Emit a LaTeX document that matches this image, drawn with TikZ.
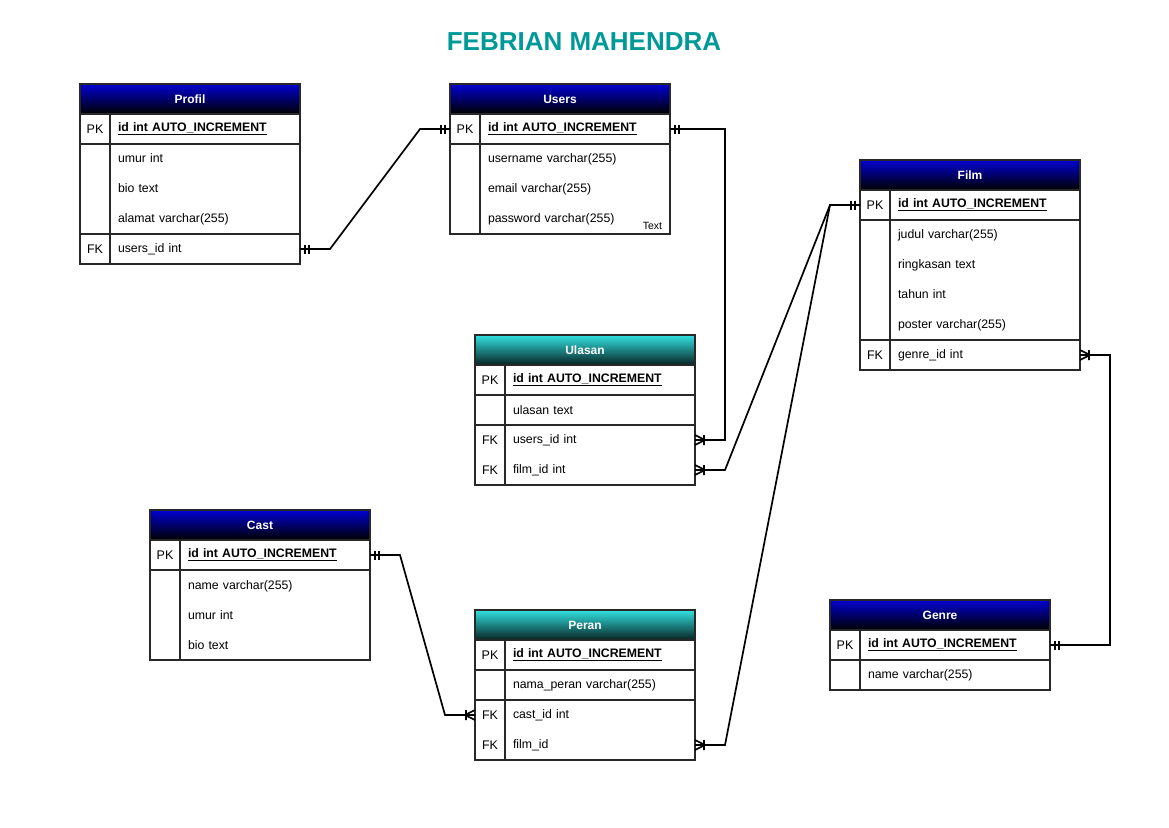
\documentclass[tikz,border=0pt]{standalone}
\usepackage{fontspec}
\setmainfont{Liberation Sans}
\usetikzlibrary{positioning}
\definecolor{hdrblue}{RGB}{0,0,210}
\definecolor{hdrteal}{RGB}{50,225,225}
\definecolor{titleteal}{RGB}{0,153,153}
\definecolor{erline}{RGB}{40,40,40}
% crow's foot with one bar (one or many)
\pgfdeclarearrow{
  name = ERmany,
  setup code = {
    \pgfarrowssettipend{0pt}
    \pgfarrowssetlineend{0pt}
    \pgfarrowssetvisualbackend{-11pt}
    \pgfarrowssetbackend{-11pt}
    \pgfarrowshullpoint{0pt}{6pt}
    \pgfarrowshullpoint{0pt}{-6pt}
    \pgfarrowshullpoint{-11pt}{6pt}
    \pgfarrowshullpoint{-11pt}{-6pt}
  },
  drawing code = {
    \pgfsetdash{}{0pt}
    \pgfpathmoveto{\pgfqpoint{0pt}{5pt}}
    \pgfpathlineto{\pgfqpoint{-10pt}{0pt}}
    \pgfpathlineto{\pgfqpoint{0pt}{-5pt}}
    \pgfpathmoveto{\pgfqpoint{-9pt}{5pt}}
    \pgfpathlineto{\pgfqpoint{-9pt}{-5pt}}
    \pgfusepathqstroke
  }
}
% two bars (one and only one)
\pgfdeclarearrow{
  name = ERone,
  setup code = {
    \pgfarrowssettipend{0pt}
    \pgfarrowssetlineend{0pt}
    \pgfarrowssetvisualbackend{-11pt}
    \pgfarrowssetbackend{-11pt}
    \pgfarrowshullpoint{0pt}{6pt}
    \pgfarrowshullpoint{0pt}{-6pt}
    \pgfarrowshullpoint{-11pt}{6pt}
    \pgfarrowshullpoint{-11pt}{-6pt}
  },
  drawing code = {
    \pgfsetdash{}{0pt}
    \pgfpathmoveto{\pgfqpoint{-5pt}{4.5pt}}
    \pgfpathlineto{\pgfqpoint{-5pt}{-4.5pt}}
    \pgfpathmoveto{\pgfqpoint{-9pt}{4.5pt}}
    \pgfpathlineto{\pgfqpoint{-9pt}{-4.5pt}}
    \pgfusepathqstroke
  }
}
\begin{document}
\begin{tikzpicture}[x=1pt, y=-1pt,
  every node/.style={inner sep=0pt, outer sep=0pt},
  tblhead/.style={draw=erline, line width=1.5pt, minimum width=220pt, minimum height=30pt,
    text=white, font=\bfseries\fontsize{12}{14}\selectfont, anchor=north west},
  bluehead/.style={tblhead, top color=hdrblue, bottom color=black},
  tealhead/.style={tblhead, top color=hdrteal, bottom color=black!85!hdrteal},
  keycell/.style={draw=erline, line width=1.5pt, minimum width=30pt, align=center,
    font=\fontsize{12.5}{30}\selectfont},
  fieldcell/.style={draw=erline, line width=1.5pt, text width=174pt, inner xsep=8pt,
    align=left, font=\fontsize{12.3}{30}\selectfont},
  pkfield/.style={fieldcell, font=\bfseries\fontsize{12.3}{30}\selectfont},
  rel/.style={line width=1.7pt, black}
]
\useasboundingbox[fill=white] (0,0) rectangle (1169,827);
\node[text=titleteal, font=\bfseries\fontsize{26}{30}\selectfont] (title) at (584,42) {FEBRIAN MAHENDRA};

% Profil
\node[bluehead] (profil) at (80,84) {Profil};
\node[keycell, minimum height=30pt, below right=0pt and 0pt of profil.south west] (profil-k1) {PK};
\node[pkfield, minimum height=30pt, right=0pt of profil-k1] (profil-f1) {\underline{id int AUTO\_INCREMENT}};
\node[keycell, minimum height=90pt, below=0pt of profil-k1] (profil-k2) {};
\node[fieldcell, minimum height=90pt, right=0pt of profil-k2] (profil-f2) {umur int\\bio text\\alamat varchar(255)};
\node[keycell, minimum height=30pt, below=0pt of profil-k2] (profil-k3) {FK};
\node[fieldcell, minimum height=30pt, right=0pt of profil-k3] (profil-f3) {users\_id int};

% Users
\node[bluehead] (users) at (450,84) {Users};
\node[keycell, minimum height=30pt, below right=0pt and 0pt of users.south west] (users-k1) {PK};
\node[pkfield, minimum height=30pt, right=0pt of users-k1] (users-f1) {\underline{id int AUTO\_INCREMENT}};
\node[keycell, minimum height=90pt, below=0pt of users-k1] (users-k2) {};
\node[fieldcell, minimum height=90pt, right=0pt of users-k2] (users-f2) {username varchar(255)\\email varchar(255)\\password varchar(255)};
\node[font=\fontsize{10.5}{12}\selectfont, anchor=south east] (users-note) at ([xshift=-8pt,yshift=4pt]users-f2.south east) {Text};

% Film
\node[bluehead] (film) at (860,160) {Film};
\node[keycell, minimum height=30pt, below right=0pt and 0pt of film.south west] (film-k1) {PK};
\node[pkfield, minimum height=30pt, right=0pt of film-k1] (film-f1) {\underline{id int AUTO\_INCREMENT}};
\node[keycell, minimum height=120pt, below=0pt of film-k1] (film-k2) {};
\node[fieldcell, minimum height=120pt, right=0pt of film-k2] (film-f2) {judul varchar(255)\\ringkasan text\\tahun int\\poster varchar(255)};
\node[keycell, minimum height=30pt, below=0pt of film-k2] (film-k3) {FK};
\node[fieldcell, minimum height=30pt, right=0pt of film-k3] (film-f3) {genre\_id int};

% Ulasan
\node[tealhead] (ulasan) at (475,335) {Ulasan};
\node[keycell, minimum height=30pt, below right=0pt and 0pt of ulasan.south west] (ulasan-k1) {PK};
\node[pkfield, minimum height=30pt, right=0pt of ulasan-k1] (ulasan-f1) {\underline{id int AUTO\_INCREMENT}};
\node[keycell, minimum height=30pt, below=0pt of ulasan-k1] (ulasan-k2) {};
\node[fieldcell, minimum height=30pt, right=0pt of ulasan-k2] (ulasan-f2) {ulasan text};
\node[keycell, minimum height=60pt, below=0pt of ulasan-k2] (ulasan-k3) {FK\\FK};
\node[fieldcell, minimum height=60pt, right=0pt of ulasan-k3] (ulasan-f3) {users\_id int\\film\_id int};

% Cast
\node[bluehead] (cast) at (150,510) {Cast};
\node[keycell, minimum height=30pt, below right=0pt and 0pt of cast.south west] (cast-k1) {PK};
\node[pkfield, minimum height=30pt, right=0pt of cast-k1] (cast-f1) {\underline{id int AUTO\_INCREMENT}};
\node[keycell, minimum height=90pt, below=0pt of cast-k1] (cast-k2) {};
\node[fieldcell, minimum height=90pt, right=0pt of cast-k2] (cast-f2) {name varchar(255)\\umur int\\bio text};

% Peran
\node[tealhead] (peran) at (475,610) {Peran};
\node[keycell, minimum height=30pt, below right=0pt and 0pt of peran.south west] (peran-k1) {PK};
\node[pkfield, minimum height=30pt, right=0pt of peran-k1] (peran-f1) {\underline{id int AUTO\_INCREMENT}};
\node[keycell, minimum height=30pt, below=0pt of peran-k1] (peran-k2) {};
\node[fieldcell, minimum height=30pt, right=0pt of peran-k2] (peran-f2) {nama\_peran varchar(255)};
\node[keycell, minimum height=60pt, below=0pt of peran-k2] (peran-k3) {FK\\FK};
\node[fieldcell, minimum height=60pt, right=0pt of peran-k3] (peran-f3) {cast\_id int\\film\_id};

% Genre
\node[bluehead] (genre) at (830,600) {Genre};
\node[keycell, minimum height=30pt, below right=0pt and 0pt of genre.south west] (genre-k1) {PK};
\node[pkfield, minimum height=30pt, right=0pt of genre-k1] (genre-f1) {\underline{id int AUTO\_INCREMENT}};
\node[keycell, minimum height=30pt, below=0pt of genre-k1] (genre-k2) {};
\node[fieldcell, minimum height=30pt, right=0pt of genre-k2] (genre-f2) {name varchar(255)};

% relations
\draw[rel, {ERone}-{ERone}] (profil-f3.east) -- ++(30,0) -- ([xshift=-30pt]users-k1.west) -- (users-k1.west);
\draw[rel, {ERone}-{ERmany}] (users-f1.east) -- ++(55,0) |- ([yshift=15pt]ulasan-f3.east);
\draw[rel, {ERone}-{ERmany}] (film-k1.west) -- ++(-30,0) -- ([xshift=30pt,yshift=-15pt]ulasan-f3.east) -- ([yshift=-15pt]ulasan-f3.east);
\draw[rel, {ERone}-{ERmany}] (film-k1.west) -- ++(-30,0) -- ([xshift=30pt,yshift=-15pt]peran-f3.east) -- ([yshift=-15pt]peran-f3.east);
\draw[rel, {ERone}-{ERmany}] (cast-f1.east) -- ++(30,0) -- ([xshift=-30pt,yshift=15pt]peran-k3.west) -- ([yshift=15pt]peran-k3.west);
\draw[rel, {ERmany}-{ERone}] (film-f3.east) -- ++(30,0) |- (genre-f1.east);
\end{tikzpicture}
\end{document}
